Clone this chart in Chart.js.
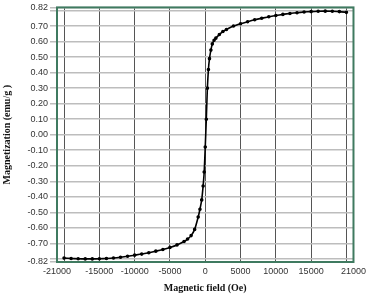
<!DOCTYPE html>
<html>
<head>
<meta charset="utf-8">
<script src="https://cdn.jsdelivr.net/npm/chart.js@4"></script>
<style>
  html, body { margin: 0; padding: 0; background: #fff; }
  #wrap { width: 370px; height: 295px; position: relative; }
</style>
</head>
<body>
<div id="wrap"><canvas id="chartMH"></canvas></div>
<script>
// field (Oe) and magnetization (emu/g)
const field = [-20000, -19000, -18000, -17000, -16000, -15000, -14000, -13000, -12000, -11000,
  -10000, -9000, -8000, -7000, -6000, -5000, -4000, -3000, -2500, -2000, -1500, -1000, -750,
  -500, -300, -150, 0, 150, 300, 450, 600, 800, 1000, 1250, 1500, 2000, 2500, 3000, 4000,
  5000, 6000, 7000, 8000, 9000, 10000, 11000, 12000, 13000, 14000, 15000, 16000, 17000,
  18000, 19000, 20000];
const magnet = [-0.795, -0.797, -0.799, -0.800, -0.800, -0.799, -0.797, -0.794, -0.789, -0.783,
  -0.776, -0.769, -0.760, -0.750, -0.739, -0.726, -0.710, -0.688, -0.672, -0.650, -0.610, -0.530, -0.480,
  -0.420, -0.330, -0.240, -0.080, 0.100, 0.300, 0.420, 0.490, 0.545, 0.585, 0.608, 0.622, 0.645, 0.665, 0.678, 0.700,
  0.715, 0.728, 0.740, 0.750, 0.760, 0.768, 0.775, 0.781, 0.786, 0.790, 0.793, 0.795, 0.796,
  0.795, 0.793, 0.788];

const xTicks = [-21000, -20000, -15000, -10000, -5000, 0, 5000, 10000, 15000, 20000, 21000];
const xHidden = [-20000, 20000];
const yTicks = [-0.82, -0.8, -0.7, -0.6, -0.5, -0.4, -0.3, -0.2, -0.1, 0, 0.1, 0.2, 0.3, 0.4, 0.5, 0.6, 0.7, 0.8, 0.82];
const yHidden = [-0.8, 0.8];

const frame = {
  id: 'frame',
  afterDraw(chart) {
    const { ctx, chartArea: a } = chart;
    ctx.save();
    ctx.strokeStyle = '#3f7a60';
    ctx.lineWidth = 2;
    ctx.strokeRect(a.left, a.top, a.right - a.left, a.bottom - a.top);
    ctx.restore();
  }
};

const tickFont = { family: 'Liberation Sans, Arial, sans-serif', size: 9 };
const titleFont = { family: 'Liberation Serif, Times New Roman, serif', size: 10, weight: 'bold' };

new Chart(document.getElementById('chartMH'), {
  type: 'scatter',
  data: {
    datasets: [{
      data: field.map((h, i) => ({ x: h, y: magnet[i] })),
      showLine: true,
      borderColor: '#000',
      backgroundColor: '#000',
      borderWidth: 1.6,
      pointRadius: 1,
      pointHoverRadius: 1,
      tension: 0.2
    }]
  },
  options: {
    responsive: true,
    maintainAspectRatio: false,
    animation: false,
    layout: { padding: { top: 5, right: 14, left: 0, bottom: 0 } },
    plugins: { legend: { display: false }, tooltip: { enabled: false } },
    scales: {
      x: {
        type: 'linear', min: -21000, max: 21000,
        afterBuildTicks: s => { s.ticks = xTicks.map(v => ({ value: v })); },
        afterFit: s => { s.height = 33; },
        grid: { color: '#555', lineWidth: 1, drawTicks: false },
        border: { display: false },
        ticks: {
          autoSkip: false, maxRotation: 0, padding: 4, color: '#333', font: tickFont,
          callback: v => xHidden.includes(v) ? '' : String(v)
        },
        title: { display: true, text: 'Magnetic field (Oe)', color: '#111', font: titleFont, padding: { top: 0, bottom: 1 } }
      },
      y: {
        type: 'linear', min: -0.82, max: 0.82,
        afterBuildTicks: s => { s.ticks = yTicks.map(v => ({ value: v })); },
        afterFit: s => { s.width = 57; },
        grid: { color: '#bdbdbd', lineWidth: 1.5, tickLength: 7 },
        border: { display: false },
        ticks: {
          autoSkip: false, padding: 2, color: '#333', font: tickFont,
          callback: v => yHidden.some(h => Math.abs(h - v) < 1e-9) ? '' : Number(v).toFixed(2)
        },
        title: { display: true, text: 'Magnetization (emu/g )', color: '#111', font: titleFont, padding: { top: 1, bottom: 0 } }
      }
    }
  },
  plugins: [frame]
});
</script>
</body>
</html>
